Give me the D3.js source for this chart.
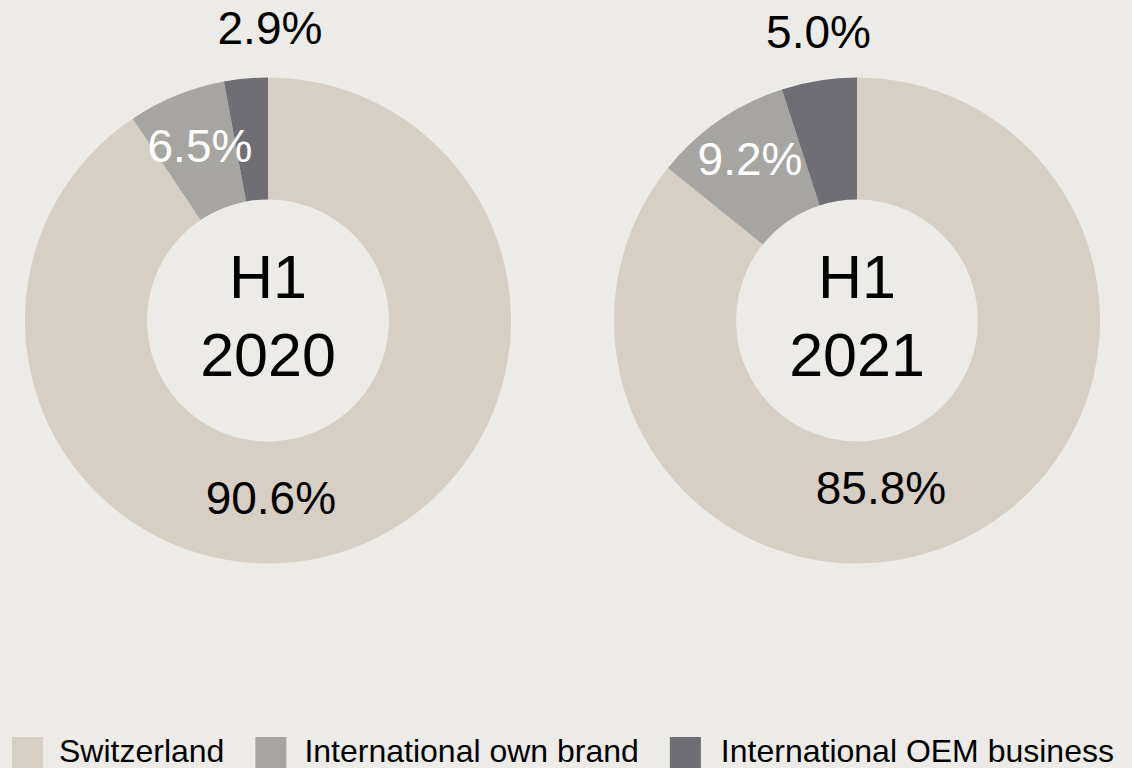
<!DOCTYPE html>
<html>
<head>
<meta charset="utf-8">
<script src="https://cdn.jsdelivr.net/npm/d3@7"></script>
<style>
body{ margin:0; background:#ECEBE7; }
svg{ display:block; font-family:"Liberation Sans", Arial, sans-serif; }
</style>
</head>
<body>
<div id="content"></div>
<script>
// data
var categories = ['Switzerland', 'International own brand', 'International OEM business'];
var periods = ['H1 2020', 'H1 2021'];
var values_2020 = [90.6, 6.5, 2.9];
var values_2021 = [85.8, 9.2, 5.0];
var colors = ['#D5CFC6', '#A6A5A1', '#6F6E75'];
var label_colors = ['#000', '#fff', '#000'];

// label placement: [angle nudge in degrees, radius] per slice, per donut
var label_nudge = [
    [[16, 178], [0.8, 187], [5.6, 293]],
    [[17.4, 169], [1.1, 194], [1.4, 291]]
];

function pct(v){
    return v.toFixed(1) + '%';
}

function plot_donut(svg, cx, cy, values, period, k){
    var r_out = 243, r_in = 121;
    var pie = d3.pie().sort(null).value(function(d){ return d; });
    var arc = d3.arc().innerRadius(r_in).outerRadius(r_out);
    var slices = pie(values);

    var g = svg.append('g').attr('transform', 'translate(' + cx + ',' + cy + ')');
    g.selectAll('path')
	.data(slices)
	.enter()
	.append('path')
	.attr('d', arc)
	.attr('fill', function(d, i){ return colors[i]; });

    // percentage labels
    g.selectAll('text.pct')
	.data(slices)
	.enter()
	.append('text')
	.attr('class', 'pct')
	.attr('text-anchor', 'middle')
	.attr('dominant-baseline', 'central')
	.attr('font-size', 46)
	.attr('fill', function(d, i){ return label_colors[i]; })
	.attr('transform', function(d, i){
	    var mid = (d.startAngle + d.endAngle) / 2 + label_nudge[k][i][0] * Math.PI / 180;
	    var r = label_nudge[k][i][1];
	    return 'translate(' + (r * Math.sin(mid)) + ',' + (-r * Math.cos(mid)) + ')';
	})
	.text(function(d){ return pct(d.data); });

    // center title
    var lines = period.split(' ');
    g.selectAll('text.title')
	.data(lines)
	.enter()
	.append('text')
	.attr('class', 'title')
	.attr('text-anchor', 'middle')
	.attr('font-size', 61)
	.attr('fill', '#000')
	.attr('y', function(d, i){ return -23 + i * 78; })
	.text(function(d){ return d; });
}

function plot_legend(svg){
    var x = 12, y = 737;
    var lg = svg.append('g');
    categories.forEach(function(c, i){
	lg.append('rect')
	    .attr('x', x).attr('y', y)
	    .attr('width', 31).attr('height', 31)
	    .attr('fill', colors[i]);
	var tx = x + 47 + i * 2;
	var t = lg.append('text')
	    .attr('x', tx)
	    .attr('y', 762)
	    .attr('font-size', 32)
	    .attr('fill', '#000')
	    .text(c);
	x = tx + t.node().getComputedTextLength() + 31;
    });
}

var w = 1132, h = 768;
var svg = d3.select('#content')
	.append('svg')
	.attr('width', w)
	.attr('height', h);

svg.append('rect').attr('width', w).attr('height', h).attr('fill', '#ECEBE7');

var x = d3.scalePoint().domain(periods).range([268, 857]);
plot_donut(svg, x(periods[0]), 320.5, values_2020, periods[0], 0);
plot_donut(svg, x(periods[1]), 320.5, values_2021, periods[1], 1);
plot_legend(svg);
</script>
</body>
</html>
